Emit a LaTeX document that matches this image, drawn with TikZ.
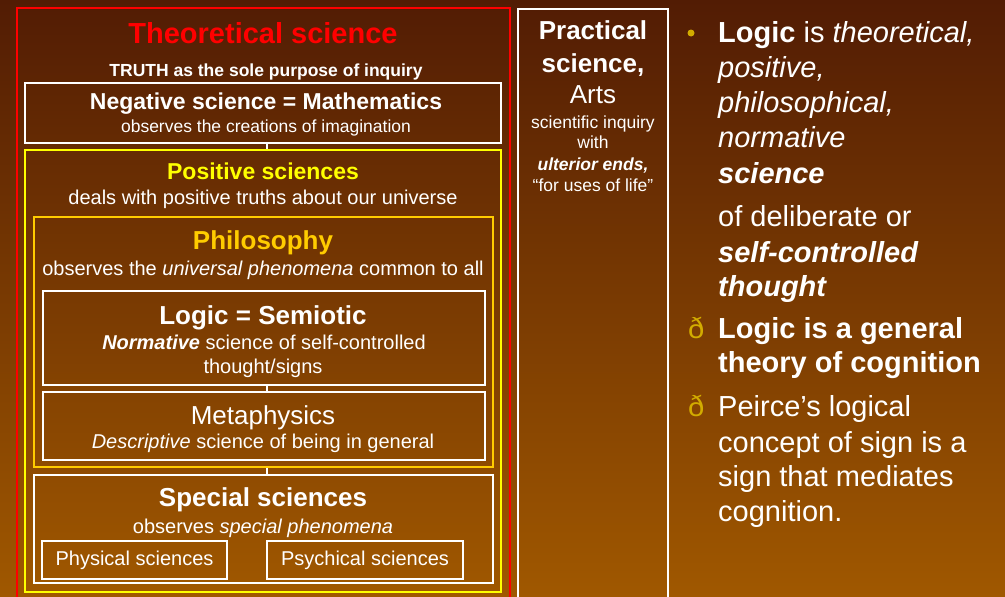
\documentclass[tikz,border=0pt]{standalone}
\usepackage{fontspec}
\setmainfont{Liberation Sans}
\definecolor{bgtop}{RGB}{82,28,4}
\definecolor{bgmid}{RGB}{140,48,0}
\definecolor{bgbot}{RGB}{160,88,0}
\definecolor{theored}{RGB}{255,0,0}
\definecolor{posyellow}{RGB}{255,255,0}
\definecolor{philgold}{RGB}{255,204,0}
\definecolor{bulletgold}{RGB}{210,172,0}
\newcommand\fsz[1]{\fontsize{#1}{#1}\selectfont}

\begin{document}
\begin{tikzpicture}[x=1pt,y=-1pt,
  box/.style={draw=white, line width=1.2pt, inner sep=0pt},
  link/.style={draw=white, line width=2pt},
  txt/.style={text=white, anchor=base, inner sep=0pt},
  side/.style={text=white, anchor=base west, inner sep=0pt, font=\fsz{29}}]
  \useasboundingbox (0,0) rectangle (1005,597);
  \shade[top color=bgtop, middle color=bgmid, bottom color=bgbot] (0,0) rectangle (1005,597);

  % theoretical science
  \node[box, draw=theored, line width=1.5pt, minimum width=493, minimum height=592] (theo) at (263.5,304) {};
  \node[txt, text=theored, font=\fsz{29}\bfseries] (theoT) at (263,43) {Theoretical science};
  \node[txt, font=\fsz{17.5}\bfseries] (truth) at (266,76) {TRUTH as the sole purpose of inquiry};

  \node[box, minimum width=476, minimum height=60] (neg) at (263,113) {};
  \node[txt, font=\fsz{23}\bfseries] (negT) at (266,109) {Negative science = Mathematics};
  \node[txt, font=\fsz{17.5}] (negS) at (266,132) {observes the creations of imagination};

  \node[box, draw=posyellow, line width=1.5pt, minimum width=476, minimum height=442] (pos) at (263,371) {};
  \node[txt, text=posyellow, font=\fsz{23}\bfseries] (posT) at (263,179) {Positive sciences};
  \node[txt, font=\fsz{20}] (posS) at (263,204) {deals with positive truths about our universe};

  \node[box, draw=philgold, line width=1.5pt, minimum width=459, minimum height=250] (phil) at (263.5,342) {};
  \node[txt, text=philgold, font=\fsz{26}\bfseries] (philT) at (263,249) {Philosophy};
  \node[txt, font=\fsz{20}] (philS) at (263,275) {observes the \textit{universal phenomena} common to all};

  \node[box, minimum width=442, minimum height=94] (logic) at (264,338) {};
  \node[txt, font=\fsz{26}\bfseries] (logicT) at (263,324) {Logic = Semiotic};
  \node[txt, font=\fsz{20}] (logicS) at (264,349) {\textbf{\textit{Normative}} science of self-controlled};
  \node[txt, font=\fsz{20}] (logicS2) at (263,373) {thought/signs};

  \node[box, minimum width=442, minimum height=68] (meta) at (264,426) {};
  \node[txt, font=\fsz{26}] (metaT) at (263,424) {Metaphysics};
  \node[txt, font=\fsz{20}] (metaS) at (263,448) {\textit{Descriptive} science of being in general};

  \node[box, minimum width=459, minimum height=108] (spec) at (263.5,529) {};
  \node[txt, font=\fsz{26}\bfseries] (specT) at (263,506) {Special sciences};
  \node[txt, font=\fsz{20}] (specS) at (263,533) {observes \textit{special phenomena}};

  \node[box, minimum width=185, minimum height=38, text=white, font=\fsz{20}] (phys) at (134.5,560) {Physical sciences};
  \node[box, minimum width=196, minimum height=38, text=white, font=\fsz{20}] (psych) at (365,560) {Psychical sciences};

  \draw[link] ([xshift=3.5pt]neg.south) -- ([xshift=3.5pt]pos.north);
  \draw[link] ([xshift=3pt]logic.south) -- ([xshift=3pt]meta.north);
  \draw[link] ([xshift=3.5pt]phil.south) -- ([xshift=3.5pt]spec.north);

  % practical science
  \node[box, minimum width=150, minimum height=596] (prac) at (593,307) {};
  \node[txt, font=\fsz{26}\bfseries] (pracT) at (593,39) {Practical};
  \node[txt, font=\fsz{26}\bfseries] (pracT2) at (593,72) {science,};
  \node[txt, font=\fsz{26}] (arts) at (593,103) {Arts};
  \node[txt, font=\fsz{17.5}] (pracS) at (593,128) {scientific inquiry};
  \node[txt, font=\fsz{17.5}] (pracS2) at (593,148) {with};
  \node[txt, font=\fsz{17.5}\bfseries\itshape] (pracS3) at (593,170) {ulterior ends,};
  \node[txt, font=\fsz{17.5}] (pracS4) at (593,191) {“for uses of life”};

  % right-hand notes
  \fill[bulletgold] (691,33) circle (3.5);
  \node[side] (l1) at (718,42) {\textbf{Logic} is \textit{theoretical,}};
  \node[side] (l2) at (718,77) {\textit{positive,}};
  \node[side] (l3) at (718,112) {\textit{philosophical,}};
  \node[side] (l4) at (718,147) {\textit{normative}};
  \node[side] (l5) at (718,183) {\textbf{\textit{science}}};
  \node[side] (l6) at (718,226) {of deliberate or};
  \node[side] (l7) at (718,262) {\textbf{\textit{self-controlled}}};
  \node[side] (l8) at (718,296) {\textbf{\textit{thought}}};
  \node[side, text=bulletgold] (b1) at (688,338) {ð};
  \node[side] (l9) at (718,338) {\textbf{Logic is a general}};
  \node[side] (l10) at (718,372) {\textbf{theory of cognition}};
  \node[side, text=bulletgold] (b2) at (688,416) {ð};
  \node[side] (l11) at (718,416) {Peirce’s logical};
  \node[side] (l12) at (718,452) {concept of sign is a};
  \node[side] (l13) at (718,486) {sign that mediates};
  \node[side] (l14) at (718,521) {cognition.};
\end{tikzpicture}
\end{document}
